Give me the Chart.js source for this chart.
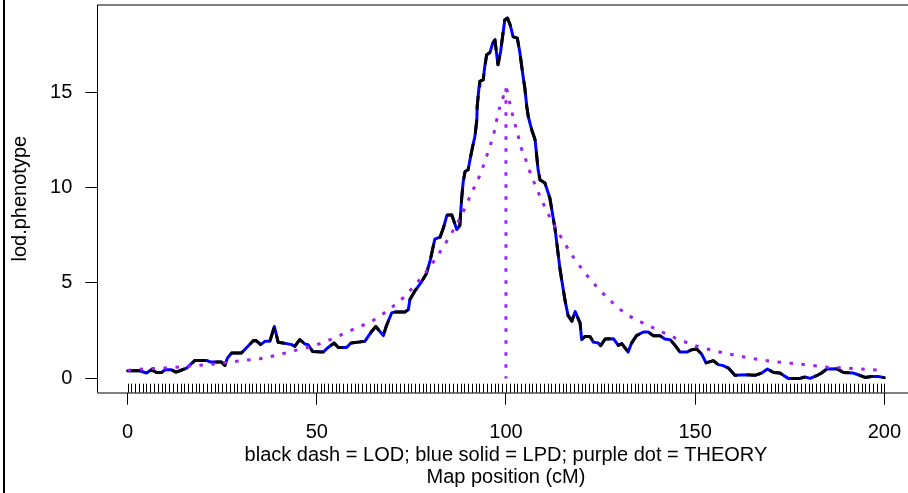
<!DOCTYPE html>
<html>
<head>
<meta charset="utf-8">
<script src="https://cdn.jsdelivr.net/npm/chart.js@4"></script>
<style>
  html, body { margin: 0; padding: 0; background: #fff; overflow: hidden; }
  #wrap { width: 908px; height: 493px; overflow: hidden; }
</style>
</head>
<body>
<div id="wrap"><canvas id="lod-chart" width="916" height="493"></canvas></div>
<script>
// LOD scan (cM, lod)
const lodPos = [0, 3.2, 5, 6.3, 7.7, 9, 9.9, 11.6, 12.8, 13.8, 15.6, 17.8, 20.9, 21.8, 24.8, 25.7, 26.4, 27.5, 30.1, 31.5,
  33.2, 33.9, 35.2, 36.3, 37.6, 38.8, 39.8, 41.1, 43.4, 44.2, 45.5, 46.9, 47.7, 48.9, 51.7, 53, 54.6, 55.7, 57.9, 59,
  61, 62.7, 64.5, 65.6, 66.7, 67.6, 68.3, 68.9, 69.8, 70.7, 73.3, 74.2, 74.6, 76, 77.5, 79, 80, 81.2, 82.6, 83.5,
  84.4, 85.7, 87, 87.8, 88.3, 88.7, 89.2, 90, 90.5, 91.2, 91.8, 92.3, 92.4, 92.9, 93.1, 94, 94.4, 94.9, 95.8, 96.5,
  97.1, 97.5, 97.9, 98.6, 99.1, 99.7, 100.4, 101.1, 101.9, 103, 103.7, 104.4, 105, 105.5, 105.9, 106.8, 107.7, 108.1, 108.5, 109,
  109.7, 110.3, 111.6, 113, 114.3, 115.6, 116.4, 117.4, 118.3, 119.6, 120, 120.9, 122.2, 123.1, 124.4, 125, 126.2, 128.4, 129.7, 130.6,
  132.3, 133.2, 134.5, 136.3, 137.6, 138.9, 140.7, 142, 143.4, 144.7, 146, 147.8, 149.1, 150.4, 151.7, 152.9, 154.8, 156.1, 157.4, 158.8,
  160.5, 163.6, 165.8, 167.6, 169.1, 170.7, 172.4, 174.6, 177.7, 179, 180.4, 182.1, 183.4, 184.8, 187.4, 189.2, 191.8, 193.1, 194.9, 196.7,
  198.4, 200];
const lodVals = [0.4, 0.4, 0.28, 0.45, 0.31, 0.31, 0.45, 0.45, 0.33, 0.4, 0.54, 0.94, 0.94, 0.86, 0.86, 0.68, 1.07, 1.33, 1.33, 1.62,
  1.97, 1.99, 1.77, 1.94, 1.94, 2.72, 1.89, 1.85, 1.77, 1.68, 2.03, 1.8, 1.77, 1.41, 1.38, 1.62, 1.85, 1.62, 1.62, 1.85,
  1.9, 1.94, 2.46, 2.72, 2.46, 2.24, 2.69, 2.99, 3.43, 3.48, 3.48, 3.6, 4.12, 4.6, 5.0, 5.5, 6.2, 7.3, 7.4, 7.9,
  8.56, 8.56, 7.8, 8.0, 9.45, 10.3, 10.84, 10.93, 11.46, 12.15, 12.68, 13.55, 14.25, 15.3, 15.56, 15.65, 16.34, 16.96, 17.08, 17.57,
  17.74, 17.04, 16.43, 17.13, 17.9, 18.79, 18.88, 18.53, 17.9, 17.83, 17.05, 16.0, 15.2, 14.25, 13.72, 13.03, 12.5, 11.72, 10.93, 10.4,
  10.32, 10.24, 9.45, 7.8, 5.7, 4.1, 3.3, 3.0, 3.5, 2.9, 2.03, 2.2, 2.2, 1.9, 1.85, 1.71, 2.06, 2.08, 1.73, 1.82,
  1.38, 1.85, 2.24, 2.43, 2.43, 2.24, 2.24, 2.06, 2.03, 1.73, 1.38, 1.38, 1.5, 1.54, 1.28, 0.81, 0.93, 0.72, 0.67, 0.54,
  0.16, 0.19, 0.16, 0.28, 0.49, 0.31, 0.28, 0, 0, 0.07, 0, 0.14, 0.28, 0.49, 0.51, 0.31, 0.28, 0.19, 0.05, 0.1,
  0.1, 0.04];

// LPD overlays the LOD curve in the picture
const lpdPos = lodPos;
const lpdVals = lodVals;

// theoretical curve
const theoryPos = [0, 5, 10, 15, 20, 25, 30, 35, 40, 45, 50, 55, 60, 65, 70, 73, 76, 79, 82, 85, 88, 91, 93, 95, 97, 98, 99, 100,
  101, 102, 103, 104, 105, 106, 108, 110, 112, 115, 118, 121, 124, 128, 132, 136, 140, 145, 150, 155, 160, 165, 170, 175, 180, 185, 190, 195, 200];
const theoryVals = [0.42, 0.5, 0.55, 0.62, 0.7, 0.8, 0.93, 1.03, 1.25, 1.5, 1.76, 2.15, 2.6, 3.05, 3.75, 4.25, 4.9, 5.6, 6.45, 7.4, 8.45, 9.75, 10.6, 11.7, 13.0, 13.95, 14.55, 15.2,
  14.45, 13.6, 12.9, 12.1, 11.6, 11.0, 10.0, 9.1, 8.3, 7.25, 6.3, 5.5, 4.8, 4.0, 3.35, 2.92, 2.55, 2.1, 1.72, 1.45, 1.24, 1.05, 0.9, 0.8, 0.7, 0.58, 0.54, 0.48, 0.42];
const dropPos = [100, 100];
const dropVals = [15.2, 0];

// marker positions (rug)
const markerPos = [0, 1, 2, 3, 4, 5, 6, 7, 8, 9, 10, 11, 12, 13, 14, 15, 16, 17, 18, 19, 20, 21, 22, 23, 24, 25, 26, 27, 28, 29,
  30, 31, 32, 33, 34, 35, 36, 37, 38, 39, 40, 41, 42, 43, 44, 45, 46, 47, 48, 49, 50, 51, 52, 53, 54, 55, 56, 57, 58, 59,
  60, 61, 62, 63, 64, 65, 66, 67, 68, 69, 70, 71, 72, 73, 74, 75, 76, 77, 78, 79, 80, 81, 82, 83, 84, 85, 86, 87, 88, 89,
  90, 91, 92, 93, 94, 95, 96, 97, 98, 99, 100, 101, 102, 103, 104, 105, 106, 107, 108, 109, 110, 111, 112, 113, 114, 115, 116, 117, 118, 119,
  120, 121, 122, 123, 124, 125, 126, 127, 128, 129, 130, 131, 132, 133, 134, 135, 136, 137, 138, 139, 140, 141, 142, 143, 144, 145, 146, 147, 148, 149,
  150, 151, 152, 153, 154, 155, 156, 157, 158, 159, 160, 161, 162, 163, 164, 165, 166, 167, 168, 169, 170, 171, 172, 173, 174, 175, 176, 177, 178, 179,
  180, 181, 182, 183, 184, 185, 186, 187, 188, 189, 190, 191, 192, 193, 194, 195, 196, 197, 198, 199, 200];

const xTicks = [0, 50, 100, 150, 200];
const yTicks = [0, 5, 10, 15];

const toXY = (xs, ys) => xs.map((x, i) => ({ x: x, y: ys[i] }));

// box, rug and the black edge on the far left
const framePlugin = {
    id: 'frame',
    beforeDatasetsDraw(chart) {
        const { ctx, chartArea: a, scales } = chart;
        ctx.save();
        ctx.strokeStyle = '#000';
        ctx.lineWidth = 1;
        ctx.beginPath();
        const l = Math.round(a.left) + 0.5;
        ctx.moveTo(l, a.top);
        ctx.lineTo(l, a.bottom);
        ctx.moveTo(l, Math.round(a.top));
        ctx.lineTo(a.right, Math.round(a.top));
        ctx.moveTo(l, Math.round(a.bottom));
        ctx.lineTo(a.right, Math.round(a.bottom));
        markerPos.forEach(m => {
            const px = Math.round(scales.x.getPixelForValue(m)) + 0.5;
            ctx.moveTo(px, a.bottom - 9);
            ctx.lineTo(px, a.bottom);
        });
        ctx.stroke();
        ctx.fillStyle = '#000';
        ctx.fillRect(3, 0, 2, chart.height);
        ctx.restore();
    }
};

Chart.defaults.font.family = "'Liberation Sans', Arial, sans-serif";
Chart.defaults.font.size = 20;
Chart.defaults.color = '#000';

const ctx = document.getElementById('lod-chart').getContext('2d');

new Chart(ctx, {
    type: 'line',
    data: {
        datasets: [{
            label: 'THEORY',
            data: toXY(theoryPos, theoryVals),
            borderColor: '#A020F0',
            borderWidth: 3,
            borderDash: [3.5, 8.5],
            cubicInterpolationMode: 'monotone',
            pointRadius: 0
        }, {
            label: 'THEORY drop',
            data: toXY(dropPos, dropVals),
            borderColor: '#A020F0',
            borderWidth: 3,
            borderDash: [3.5, 8.5],
            pointRadius: 0
        }, {
            label: 'LOD',
            data: toXY(lodPos, lodVals),
            borderColor: '#000000',
            borderWidth: 3,
            borderDash: [12, 12],
            borderCapStyle: 'round',
            borderJoinStyle: 'round',
            pointRadius: 0
        }, {
            label: 'LPD',
            data: toXY(lpdPos, lpdVals),
            borderColor: '#0000FF',
            borderWidth: 3,
            borderJoinStyle: 'round',
            pointRadius: 0
        }]
    },
    options: {
        responsive: false,
        animation: false,
        events: [],
        layout: {
            autoPadding: false,
            padding: { top: 4.7, right: 1.4, left: 0, bottom: 0 }
        },
        plugins: {
            legend: { display: false },
            tooltip: { enabled: false }
        },
        scales: {
            x: {
                type: 'linear',
                min: -8,
                max: 208,
                afterBuildTicks: s => { s.ticks = xTicks.map(v => ({ value: v })); },
                afterFit: s => {
                    s.height = 100.3;
                    s.paddingLeft = 0;
                    s.paddingRight = 0;
                },
                border: { display: false },
                grid: { drawOnChartArea: false, drawTicks: true, tickLength: 12, color: '#000' },
                ticks: { padding: 16, maxRotation: 0 },
                title: {
                    display: true,
                    text: ['black dash = LOD; blue solid = LPD; purple dot = THEORY', 'Map position (cM)'],
                    font: { lineHeight: 1.1 },
                    padding: { top: 0, bottom: 5 }
                }
            },
            y: {
                type: 'linear',
                min: -0.75,
                max: 19.58,
                afterBuildTicks: s => { s.ticks = yTicks.map(v => ({ value: v })); },
                afterFit: s => {
                    s.width = 97.3;
                    s.paddingTop = 0;
                    s.paddingBottom = 0;
                },
                border: { display: false },
                grid: { drawOnChartArea: false, drawTicks: true, tickLength: 12, color: '#000' },
                ticks: { padding: 13 },
                title: {
                    display: true,
                    text: 'lod.phenotype',
                    padding: { top: 8, bottom: 0 }
                }
            }
        }
    },
    plugins: [framePlugin]
});
</script>
</body>
</html>
